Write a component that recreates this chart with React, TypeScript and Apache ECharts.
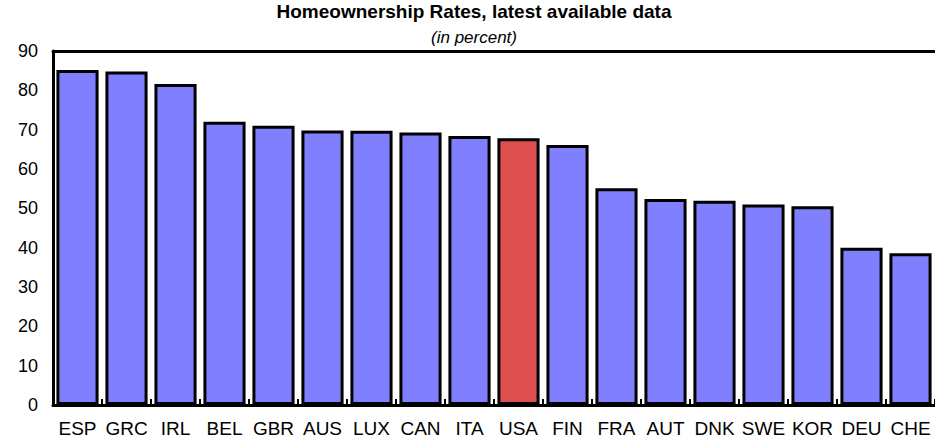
import React, { useEffect, useRef } from "react";
import * as echarts from "echarts";

const categories = ["ESP", "GRC", "IRL", "BEL", "GBR", "AUS", "LUX", "CAN", "ITA", "USA", "FIN", "FRA", "AUT", "DNK", "SWE", "KOR", "DEU", "CHE"];
const values = [85.2, 84.8, 81.6, 72.0, 71.0, 69.8, 69.7, 69.3, 68.4, 67.8, 66.1, 55.1, 52.4, 51.9, 51.0, 50.5, 40.0, 38.6];
const highlight = "USA";
const yTicks = [0, 90, 10];

const FONT = "'Liberation Sans', Arial, sans-serif";

export default function App() {
  const ref = useRef<HTMLDivElement>(null);
  useEffect(() => {
    if (!ref.current) return;
    const chart = echarts.init(ref.current, null, { renderer: "svg" });
    chart.setOption({
      animation: false,
      backgroundColor: "#ffffff",
      title: {
        text: "Homeownership Rates, latest available data",
        subtext: "(in percent)",
        left: 474,
        textAlign: "center",
        top: 2,
        padding: 0,
        itemGap: 8,
        textStyle: { fontFamily: FONT, fontSize: 19, fontWeight: "bold", color: "#000" },
        subtextStyle: { fontFamily: FONT, fontSize: 17, fontStyle: "italic", color: "#000" },
      },
      grid: { left: 53, right: 0, top: 51, bottom: 34, containLabel: false },
      xAxis: [
        {
          type: "category",
          data: categories,
          position: "bottom",
          axisLine: { show: true, lineStyle: { color: "#000", width: 3 } },
          axisTick: { show: true, inside: true, length: 6, lineStyle: { color: "#000", width: 2 } },
          axisLabel: { color: "#000", fontFamily: FONT, fontSize: 19, margin: 14, interval: 0 },
        },
        {
          type: "category",
          data: categories,
          position: "top",
          axisLine: { show: true, lineStyle: { color: "#000", width: 3 } },
          axisTick: { show: false },
          axisLabel: { show: false },
        },
      ],
      yAxis: {
        type: "value",
        min: yTicks[0],
        max: yTicks[1],
        interval: yTicks[2],
        axisLine: { show: true, lineStyle: { color: "#000", width: 3 } },
        axisTick: { show: false },
        splitLine: { show: false },
        axisLabel: { color: "#000", fontFamily: FONT, fontSize: 18, margin: 15 },
      },
      series: [
        {
          type: "bar",
          xAxisIndex: 0,
          barCategoryGap: "14%",
          data: values.map((v, i) => ({
            value: v,
            itemStyle: { color: categories[i] === highlight ? "#DE4F4F" : "#8080FF" },
          })),
          itemStyle: { borderColor: "#000", borderWidth: 3 },
        },
      ],
    });
    return () => chart.dispose();
  }, []);
  return <div ref={ref} style={{ position: "fixed", left: 0, top: 0, width: 935, height: 439 }} />;
}
